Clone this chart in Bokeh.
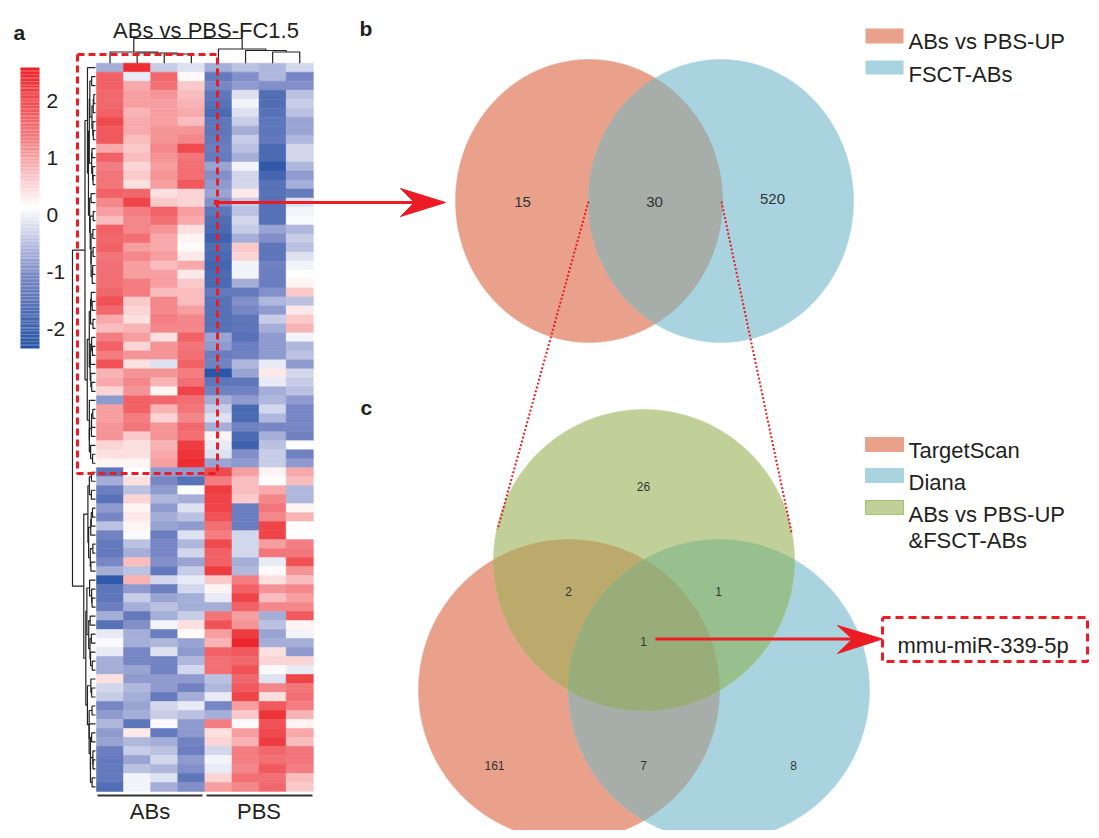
import numpy as np
from bokeh.plotting import figure
from bokeh.models import Range1d, LinearColorMapper, ColumnDataSource
from bokeh.transform import transform
from bokeh.embed import file_html
from bokeh.resources import INLINE
from bokeh.core.properties import value

# ---------------- data ----------------
samples = ["ABs1", "ABs2", "ABs3", "ABs4", "PBS1", "PBS2", "PBS3", "PBS4"]
groups = ["ABs", "PBS"]
title_a = "ABs vs PBS-FC1.5"
cbar_ticks = [2, 1, 0, -1, -2]

abs_1 = [-0.8, 1.6, 1.6, 1.5, 1.5, 1.6, 1.9, 1.7, 1.7, 0.8,
         1.6, 1.2, 1.3, 1.3, 1.6, 1.1, 0.9, 0.6, 1.6, 1.5,
         1.6, 1.3, 1.4, 1.4, 1.4, 1.5, 1.8, 1.5, 0.8, 0.6,
         1.2, 1.6, 1.2, 1.8, 0.7, 0.8, 0.4, -1.0, 0.9, 0.9,
         1.0, 1.0, 0.4, 0.3, 0.1,
         -1.6, -0.8, -1.4, -1.7, -1.0, -1.2, -0.6, -1.3, -1.5, -1.5,
         -1.2, -0.8, -2.3, -1.6, -1.6, -1.4, -0.8, -1.7, -0.2, -0.05,
         -0.2, -0.8, -0.8, 0.3, -0.4, -0.5, -1.2, -1.0, -0.7, -1.0,
         -0.9, -1.4, -1.5, -1.5, -1.5, -1.8]
abs_2 = [2.3, -0.2, 0.8, 0.9, 0.9, 0.7, 0.8, 0.8, 0.6, 0.5,
         0.6, 0.4, 0.5, 0.3, 1.5, 2.0, 1.2, 1.1, 1.1, 1.4,
         0.9, 1.1, 0.9, 0.9, 1.2, 1.2, 0.5, 0.4, 0.3, 0.7,
         0.9, 0.4, 1.0, 0.3, 1.0, 1.1, 1.0, 1.6, 1.6, 1.2,
         1.3, 0.5, 0.3, 0.3, 0.1,
         0.0, 0.3, -0.6, 0.4, 0.1, 0.2, 0.1, -0.05, -0.6, -0.8,
         0.6, -0.6, 0.7, -1.0, -0.5, -0.8, -1.5, -1.1, -0.8, -0.8,
         -1.2, -1.2, -0.9, -1.0, -0.7, -0.8, -0.9, -0.8, -1.6, 0.2,
         -0.7, -0.5, -0.9, -0.6, -0.1, -0.1]
abs_3 = [-0.5, 1.5, 1.4, 1.0, 0.9, 0.9, 0.9, 1.0, 1.0, 1.1,
         1.0, 0.9, 1.0, 0.9, 0.3, 0.5, 1.6, 1.4, 1.0, 0.8,
         0.8, 0.9, 0.6, 0.9, 0.9, 0.6, 1.1, 1.1, 1.2, 1.1,
         0.3, 1.0, 1.0, -0.3, 1.0, 0.7, 0.1, 1.5, 0.7, 0.4,
         1.0, 1.0, 0.7, 0.8, 0.9,
         -1.0, -1.2, -1.0, -0.7, -1.0, -0.8, -0.9, -1.4, -1.2, -1.2,
         -1.1, -1.5, -0.4, -1.4, -0.9, -0.6, -0.8, -0.1, -1.4, -0.7,
         -0.3, -1.3, -1.3, -1.0, -1.0, -1.5, -0.4, -0.5, -0.05, -1.5,
         -0.8, -0.6, -0.4, -0.7, -0.3, -0.8]
abs_4 = [-0.3, 0.05, 0.5, 0.6, 0.7, 0.8, 0.6, 1.0, 1.1, 1.9,
         1.3, 1.4, 1.4, 1.7, 0.4, 0.4, 0.9, 0.8, 0.3, 0.1,
         0.05, 0.2, 0.8, 0.2, 0.5, 0.6, 0.6, 0.9, 1.1, 1.1,
         1.6, 1.3, 1.4, 1.6, 1.2, 1.4, 2.0, 1.4, 1.3, 1.1,
         1.5, 1.4, 2.1, 2.2, 2.3,
         -1.0, -1.7, 0.0, -0.8, -0.3, -0.6, -1.0, -0.3, -0.7, -0.4,
         -0.9, -0.5, -0.2, -0.4, -0.8, -0.8, -0.5, 0.3, 0.05, -0.9,
         -1.0, -0.7, -0.4, -1.0, -1.3, -0.8, -0.2, -0.6, -1.0, -1.0,
         -1.3, -1.4, -1.0, -1.1, -1.6, -1.1]
pbs_1 = [-0.8, -1.5, -1.2, -1.6, -1.7, -1.9, -1.6, -1.6, -1.5, -1.4,
         -1.5, -0.9, -1.1, -1.0, -0.9, -1.1, -1.6, -1.8, -1.9, -2.1,
         -1.8, -1.9, -2.0, -1.9, -1.9, -1.5, -1.7, -1.7, -1.7, -1.7,
         -0.9, -1.0, -1.4, -1.3, -2.4, -1.6, -1.3, -0.8, -0.5, -0.3,
         -0.8, 0.1, -0.2, -0.3, -0.9,
         1.9, 1.2, 2.1, 2.0, 2.0, 1.8, 1.4, 1.2, 1.9, 1.6,
         1.6, 2.1, 0.5, 0.1, -0.2, -0.8, 1.3, 1.8, 0.9, 0.7,
         1.6, 1.4, 1.4, -0.6, -0.7, -0.2, -1.2, -0.8, 1.2, 0.3,
         0.4, -0.4, -0.1, -0.2, 0.4, 0.9]
pbs_2 = [-0.6, -1.1, -1.0, -0.3, -0.1, -0.3, -0.5, -0.8, -0.5, -0.6,
         -0.8, -0.1, -0.4, -0.4, 0.2, -0.5, -0.6, -0.4, -0.5, -0.8,
         0.5, 0.4, -0.1, -0.1, -0.8, -1.5, -1.1, -1.2, -1.6, -1.6,
         -1.7, -1.4, -1.3, -0.7, -0.9, -1.6, -1.3, -1.0, -1.9, -1.9,
         -1.3, -1.9, -2.1, -1.1, -1.0,
         0.9, 0.6, 0.6, 0.5, -1.4, -1.4, -1.4, -0.4, -0.4, -0.4,
         -0.8, -0.7, 1.2, 1.6, 2.0, 1.6, 0.9, 1.0, 2.1, 2.4,
         1.7, 1.5, 1.8, 1.5, 1.7, 2.0, 0.9, 0.5, -0.05, 0.9,
         0.7, 1.2, 1.2, 1.1, 1.4, 1.1]
pbs_3 = [-0.7, -0.7, -1.1, -1.8, -1.8, -1.7, -1.6, -1.6, -1.5, -1.9,
         -1.9, -2.3, -2.0, -1.7, -1.7, -1.7, -1.7, -1.7, -0.9, -1.1,
         -1.6, -1.6, -1.3, -1.4, -1.4, -1.1, -0.7, -1.0, -0.5, -0.8,
         -1.0, -1.0, -1.0, -0.2, 0.2, -0.2, -0.8, -0.7, -0.4, -0.7,
         -1.2, -0.8, -0.6, -0.5, -0.5,
         0.1, 0.0, 0.8, 1.1, 1.3, 1.1, 2.0, 2.0, 0.9, 1.3,
         -0.2, 0.05, 0.3, 1.0, 0.6, 1.1, -0.8, -0.6, -0.9, -0.8,
         0.3, 0.4, -0.05, -0.3, 1.1, 0.3, 1.7, 2.2, 1.8, 1.9,
         2.1, 1.5, 1.4, 1.7, 1.4, 1.5]
pbs_4 = [-0.4, -1.2, -1.1, -0.6, -0.5, -0.6, -0.9, -0.9, -0.7, -0.4,
         -0.4, -0.7, -1.0, -0.8, -1.5, -0.3, -0.1, -0.05, -0.7, -0.5,
         -0.6, -0.3, -0.1, 0.0, 0.1, 0.5, -0.6, 0.2, 0.5, 0.7,
         -0.1, -0.7, -0.6, -1.0, -0.4, -0.5, -0.6, -1.0, -1.2, -1.2,
         -1.2, -1.3, 0.0, -1.3, -1.0,
         0.8, 0.6, -0.7, -0.7, 0.1, 0.7, 0.0, 0.0, 1.2, 1.3,
         1.8, 1.0, 0.6, 1.1, 0.9, 1.1, 1.7, 0.1, -0.1, -0.8,
         -1.0, 0.4, -0.2, 2.0, 1.3, 1.4, 1.2, 0.7, 0.1, 0.8,
         0.6, 1.3, 1.3, 1.2, 0.6, 0.5]

venn_b_sets = ["ABs vs PBS-UP", "FSCT-ABs"]
venn_b_counts = [15, 30, 520]          # only-left, both, only-right
venn_c_sets = ["TargetScan", "Diana", "ABs vs PBS-UP\n&FSCT-ABs"]
venn_c_counts = {"G": 26, "SG": 2, "GB": 1, "SGB": 1, "S": 161, "SB": 7, "B": 8}
target_mirna = "mmu-miR-339-5p"

# ---------------- figure ----------------
W, H = 1091, 830
p = figure(width=W, height=H, x_range=Range1d(0, W), y_range=Range1d(H, 0),
           output_backend="svg", toolbar_location=None, min_border=0,
           x_axis_location=None, y_axis_location=None)
p.grid.visible = False
p.outline_line_color = None
p.background_fill_color = "white"

FONT = value("Liberation Sans")
TXT = "#231F20"
RED = "#EC1C24"
SALMON = "#E9A18B"
BLUE = "#A8D3DF"
GREEN = "#C0D098"
BIG = "22px"

# heatmap geometry (layout)
HX0, CW = 96.0, 27.1
HY0, RH = 62.7, 8.99
def colx(c): return HX0 + CW * (c + 0.5)
def rowy(r): return HY0 + RH * (r + 0.5)

M = np.array([abs_1, abs_2, abs_3, abs_4, pbs_1, pbs_2, pbs_3, pbs_4]).T
nrow, ncol = M.shape

# palette blue-white-red
VMIN, VMAX = -2.47, 2.47
anch_v = [VMIN, -1.2, 0.0, 1.2, VMAX]
anch_c = [(38, 84, 165), (120, 134, 196), (255, 255, 255), (243, 126, 129), (236, 34, 39)]
vs = np.linspace(VMIN, VMAX, 256)
pal = []
for v in vs:
    rgb = [int(round(np.interp(v, anch_v, [c[k] for c in anch_c]))) for k in range(3)]
    pal.append("#%02x%02x%02x" % tuple(rgb))
mapper = LinearColorMapper(palette=pal, low=VMIN, high=VMAX)

xs, ys, vv = [], [], []
for r in range(nrow):
    for c in range(ncol):
        xs.append(colx(c)); ys.append(rowy(r)); vv.append(M[r, c])
src = ColumnDataSource(dict(x=xs, y=ys, v=vv))
p.rect(x="x", y="y", width=CW, height=RH, source=src,
       fill_color=transform("v", mapper), line_color=transform("v", mapper), line_width=0.6)

# colour bar
CB_X0, CB_X1, CB_Y0, CB_Y1 = 20, 39, 67, 348
CB_ZERO, CB_UNIT = 207.0, 57.0
nseg = 200
cb_y = np.linspace(CB_Y0, CB_Y1, nseg + 1)
cb_c = (cb_y[:-1] + cb_y[1:]) / 2
cb_src = ColumnDataSource(dict(y=cb_c, v=(CB_ZERO - cb_c) / CB_UNIT))
p.rect(x=(CB_X0 + CB_X1) / 2, y="y", width=CB_X1 - CB_X0, height=(CB_Y1 - CB_Y0) / nseg * 1.05,
       source=cb_src, fill_color=transform("v", mapper), line_color=None)
p.text(x=[46] * len(cbar_ticks), y=[CB_ZERO - t * CB_UNIT + 7.5 for t in cbar_ticks],
       text=[str(t) for t in cbar_ticks], text_font=FONT, text_font_size="21px",
       text_color=TXT, text_align="left", text_baseline="alphabetic")

# row dendrogram (adjacency-constrained Ward merging of displayed rows)
clusters = [dict(n=1, cent=M[i].astype(float), h=0.0, y=rowy(i)) for i in range(nrow)]
merges = []
while len(clusters) > 1:
    best = None
    for i in range(len(clusters) - 1):
        a, b = clusters[i], clusters[i + 1]
        d = np.sqrt(2 * a["n"] * b["n"] / (a["n"] + b["n"])) * np.linalg.norm(a["cent"] - b["cent"])
        if best is None or d < best[0]:
            best = (d, i)
    d, i = best
    a, b = clusters[i], clusters[i + 1]
    h = max(d, a["h"], b["h"])
    new = dict(n=a["n"] + b["n"], cent=(a["n"] * a["cent"] + b["n"] * b["cent"]) / (a["n"] + b["n"]),
               h=h, y=(a["y"] + b["y"]) / 2)
    merges.append((a, b, new))
    clusters[i:i + 2] = [new]
hmax = clusters[0]["h"]
DX_LEAF, DX_ROOT = 95.0, 72.0
def hx(h): return DX_LEAF - (DX_LEAF - DX_ROOT) * (h / hmax) ** 0.55
dxs, dys = [], []
for a, b, nw in merges:
    xn = hx(nw["h"])
    dxs.append([hx(a["h"]), xn, xn, hx(b["h"])])
    dys.append([a["y"], a["y"], b["y"], b["y"]])
p.multi_line(xs=dxs, ys=dys, line_color="#222222", line_width=1.2)

# column dendrogram
col_merges = [(2, 3, 53.5), (1, 8, 52.5), (0, 9, 51.5), (6, 7, 51.5), (5, 11, 50.0), (4, 12, 48.5), (10, 13, 38.0)]
node_x = {c: colx(c) for c in range(ncol)}
node_y = {c: HY0 for c in range(ncol)}
cxs, cys = [], []
nid = ncol
for a, b, yy in col_merges:
    cxs.append([node_x[a], node_x[a], node_x[b], node_x[b]])
    cys.append([node_y[a], yy, yy, node_y[b]])
    node_x[nid] = (node_x[a] + node_x[b]) / 2
    node_y[nid] = yy
    nid += 1
p.multi_line(xs=cxs, ys=cys, line_color="#222222", line_width=1.2)

# title, group bars and labels
p.text(x=[205.5], y=[29.5], text=[title_a], text_font=FONT, text_font_size=BIG,
       text_color=TXT, text_align="center", text_baseline="alphabetic")
p.segment(x0=[97, 206], y0=[795, 795], x1=[202, 312], y1=[795, 795], line_color="#333333", line_width=2)
p.text(x=[149.5, 258.5], y=[811, 811], text=groups, text_font=FONT, text_font_size=BIG,
       text_color=TXT, text_align="center", text_baseline="middle")

# panel letters
p.text(x=[13, 359, 360], y=[31.5, 28, 407], text=["a", "b", "c"], text_font=FONT,
       text_font_size="21px", text_font_style="bold", text_color=TXT,
       text_align="left", text_baseline="alphabetic")

# red dashed box around up-regulated block
bx0, by0, bx1, by1 = 77, 54, 217, 473
p.line(x=[bx0, bx1, bx1, bx0, bx0], y=[by0, by0, by1, by1, by0], line_color=RED,
       line_width=3, line_dash="7 4")

# ---------------- Venn helpers ----------------
def ell(e, n=1500):
    cx, cy, rx, ry = e
    t = np.linspace(0, 2 * np.pi, n)
    return cx + rx * np.cos(t), cy + ry * np.sin(t)

def inside(x, y, e):
    cx, cy, rx, ry = e
    return ((x - cx) / rx) ** 2 + ((y - cy) / ry) ** 2 <= 1 + 1e-9

def inter(es):
    xa, ya = [], []
    for k, e in enumerate(es):
        x, y = ell(e, 3000)
        m = np.ones_like(x, dtype=bool)
        for j, f in enumerate(es):
            if j != k:
                m &= inside(x, y, f)
        xa.append(x[m]); ya.append(y[m])
    x = np.concatenate(xa); y = np.concatenate(ya)
    cx, cy = x.mean(), y.mean()
    o = np.argsort(np.arctan2(y - cy, x - cx))
    return x[o], y[o]

def fill(x, y, color):
    p.patch(x=list(x), y=list(y), fill_color=color, line_color=color, line_width=0.5)

# Venn b
E1 = (588.5, 200.5, 133.5, 141.5)
E2 = (720.5, 200.5, 132.5, 141.5)
fill(*ell(E1), SALMON)
fill(*ell(E2), BLUE)
fill(*inter([E1, E2]), "#A7ADA8")
p.text(x=[522, 654, 772], y=[201, 201, 198], text=[str(v) for v in venn_b_counts],
       text_font=FONT, text_font_size="15px", text_color="#333333",
       text_align="center", text_baseline="alphabetic")

# Venn c
EG = (643.5, 559.5, 150.5, 150.5)
ES = (568.5, 689.5, 150.5, 150.5)
EB = (718.5, 689.5, 150.5, 150.5)
fill(*ell(ES), SALMON)
fill(*ell(EB), BLUE)
fill(*ell(EG), GREEN)
fill(*inter([ES, EB]), "#A7ADA8")
fill(*inter([ES, EG]), "#BBAA6C")
fill(*inter([EG, EB]), "#98C08F")
fill(*inter([ES, EG, EB]), "#98AD79")
lab_keys = ["G", "SG", "GB", "SGB", "S", "SB", "B"]
lab_x = [643, 568, 718, 643, 494, 643, 793]
lab_y = [485.5, 590.5, 590.5, 640.5, 765, 765, 765]
p.text(x=lab_x, y=lab_y, text=[str(venn_c_counts[k]) for k in lab_keys],
       text_font=FONT, text_font_size="12px", text_color="#333333",
       text_align="center", text_baseline="alphabetic")

# dotted zoom lines b -> c
p.multi_line(xs=[[588, 497], [721, 791]], ys=[[201, 529], [201, 532]],
             line_color=RED, line_width=2, line_dash="2 2")

# arrows
p.line(x=[216, 414], y=[202, 202], line_color=RED, line_width=3)
p.scatter(x=[216], y=[202], marker="square", size=5, fill_color=RED, line_color=None)
p.patch(x=[445, 400, 414, 400], y=[202, 188, 202, 216], fill_color=RED, line_color=RED, line_width=1)
p.line(x=[655, 853], y=[638.5, 638.5], line_color=RED, line_width=3)
p.patch(x=[882, 837, 852, 837], y=[638.5, 625, 638.5, 653], fill_color=RED, line_color=RED, line_width=1)

# result box
p.line(x=[882, 1087, 1087, 882, 882], y=[617, 617, 661, 661, 617], line_color=RED,
       line_width=3, line_dash="8 5")
p.text(x=[897], y=[645], text=[target_mirna], text_font=FONT, text_font_size=BIG,
       text_color=TXT, text_align="left", text_baseline="alphabetic")

# legends
p.quad(left=[865, 865], right=[903, 903], top=[28, 60], bottom=[43, 74],
       fill_color=[SALMON, BLUE], line_color=None)
p.text(x=[908, 908], y=[41, 73.5], text=venn_b_sets, text_font=FONT, text_font_size=BIG,
       text_color=TXT, text_align="left", text_baseline="alphabetic")
p.quad(left=[865, 865, 865], right=[903, 903, 903], top=[437, 468, 500], bottom=[451, 482, 514],
       fill_color=[SALMON, BLUE, GREEN], line_color=[SALMON, BLUE, "#9DC46A"], line_width=1)
leg_c_lines = venn_c_sets[0:2] + venn_c_sets[2].split("\n")
p.text(x=[908] * 4, y=[449.5, 482, 513.5, 540], text=leg_c_lines, text_font=FONT,
       text_font_size=BIG, text_color=TXT, text_align="left", text_baseline="alphabetic")

open("out.html", "w").write(file_html(p, INLINE))
